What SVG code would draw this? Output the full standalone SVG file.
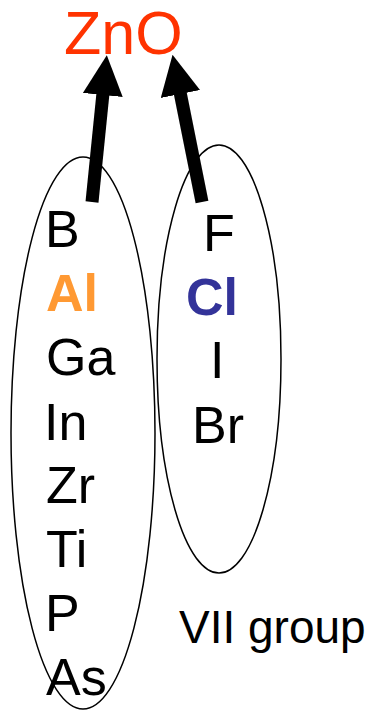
<svg xmlns="http://www.w3.org/2000/svg" width="370" height="711" viewBox="0 0 370 711">
<style>
.t{font-family:"Liberation Sans",Arial,sans-serif;font-size:52px;fill:#000}
.b{font-weight:bold}
.grp{fill:none;stroke:#000;stroke-width:1.5}
.arr{stroke:#000;stroke-width:13;fill:none}
</style>
<defs>
<marker id="head" viewBox="0 0 40 40" markerWidth="40" markerHeight="40" markerUnits="userSpaceOnUse" refX="2" refY="20" orient="auto">
<path d="M0,0 L40,20 L0,40 z" fill="#000"/>
</marker>
</defs>
<rect width="370" height="711" fill="#fff"/>
<g id="group3">
<ellipse class="grp" cx="83" cy="433" rx="72" ry="276"/>
</g>
<g id="group7">
<ellipse class="grp" cx="219" cy="359" rx="62" ry="214"/>
</g>
<g id="zno"><text class="t" x="64" y="54" style="font-size:61px;fill:#FF3300">ZnO</text></g>
<g id="connectors">
<line class="arr" x1="92" y1="202" x2="103" y2="93" marker-end="url(#head)"/>
<line class="arr" x1="202" y1="202" x2="180" y2="92" marker-end="url(#head)"/>
</g>
<g id="B"><text class="t" x="45" y="247">B</text></g>
<g id="Al"><text class="t b" x="46" y="311" style="fill:#FF9933">Al</text></g>
<g id="Ga"><text class="t" x="46" y="375">Ga</text></g>
<g id="In"><text class="t" x="44" y="440">In</text></g>
<g id="Zr"><text class="t" x="46" y="503">Zr</text></g>
<g id="Ti"><text class="t" x="46" y="567">Ti</text></g>
<g id="P"><text class="t" x="45" y="631">P</text></g>
<g id="As"><text class="t" x="46" y="695">As</text></g>
<g id="F"><text class="t" x="203" y="251">F</text></g>
<g id="Cl"><text class="t b" x="186" y="315" style="fill:#333399">Cl</text></g>
<g id="I"><text class="t" x="210" y="378">I</text></g>
<g id="Br"><text class="t" x="192" y="443">Br</text></g>
<g id="label"><text class="t" x="179" y="643" style="font-size:46px">VII group</text></g>
</svg>
